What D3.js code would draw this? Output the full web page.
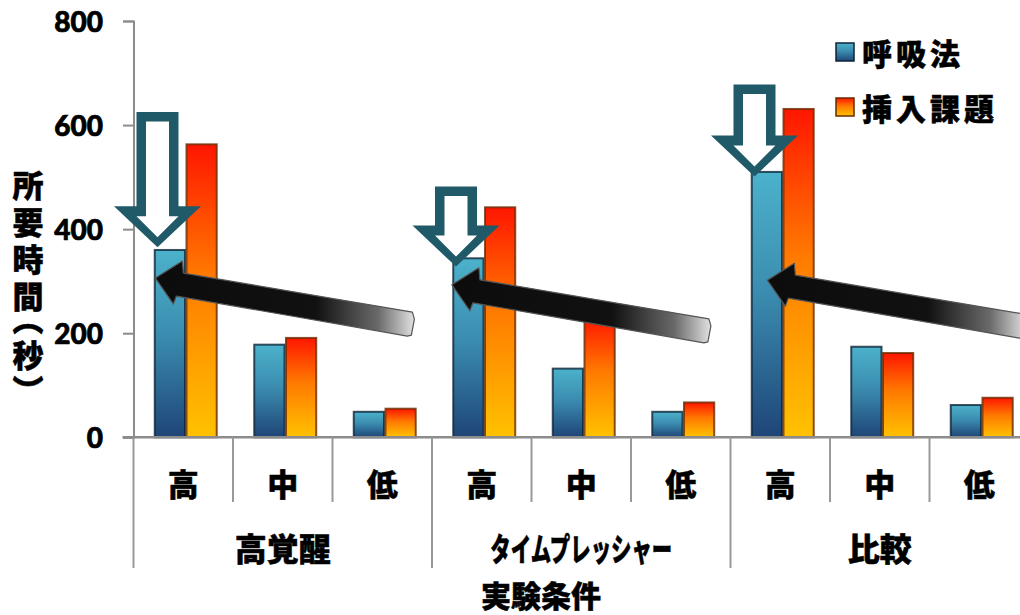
<!DOCTYPE html>
<html>
<head>
<meta charset="utf-8">
<script src="https://cdn.jsdelivr.net/npm/d3@7"></script>
<style>
  html, body { margin: 0; padding: 0; background: #fff; }
  svg { display: block; }
  .cjk { font-family: "Noto Sans CJK JP", "Noto Sans", sans-serif; font-weight: 900; fill: #000; stroke: #000; stroke-width: 0.5px; }
  .num { font-family: "Lato", "Liberation Sans", sans-serif; font-weight: 900; fill: #000; stroke: #000; stroke-width: 0.7px; }
  .vert { writing-mode: vertical-rl; font-feature-settings: "vpal" 1; }
</style>
</head>
<body>
<svg id="chart" width="1020" height="615"></svg>
<script>
// ---- data ----
const groups = ["高覚醒", "タイムプレッシャー", "比較"];
const levels = ["高", "中", "低"];
const seriesNames = ["呼吸法", "挿入課題"];
const breathing = [360, 178, 49, 344, 132, 49, 510, 174, 62];   // 呼吸法
const insertion = [563, 191, 55, 442, 230, 67, 631, 162, 76];   // 挿入課題
const yTicks = [0, 200, 400, 600, 800];
const yTitle = "所要時間（秒）";
const xTitle = "実験条件";

// highlight annotations (one per group, on the 高 category)
const downArrowCategory = [0, 3, 6];
const downArrowTop = [625, 482, 678];
const downArrowTip = [365, 328, 501];
const pointerCategory = [0, 3, 6];
const pointerTipFrac = [0.22, 0.2, 0.37];
const pointerTipValue = [306, 293, 302];

// ---- layout ----
const svg = d3.select("#chart");
const plotLeft = 133.5, plotRight = 1029, plotTop = 21, plotBottom = 437.3;
const axisGrey = "#8c8c8c";

const cats = [];
groups.forEach((g, gi) => levels.forEach((l, li) => cats.push({ id: gi * 3 + li, group: g, level: l })));

const x0 = d3.scaleBand().domain(cats.map(c => c.id)).range([plotLeft, plotRight]).padding(0);
const x1 = d3.scaleBand().domain(seriesNames)
  .range([x0.bandwidth() * 0.206, x0.bandwidth() * 0.844]).padding(0);
const y = d3.scaleLinear().domain([0, 800]).range([plotBottom, plotTop]);

// ---- gradients ----
const defs = svg.append("defs");
const gBlue = defs.append("linearGradient").attr("id", "gradBlue")
  .attr("x1", 0).attr("y1", 0).attr("x2", 0).attr("y2", 1);
gBlue.append("stop").attr("offset", "0%").attr("stop-color", "#4cb2cb");
gBlue.append("stop").attr("offset", "45%").attr("stop-color", "#3b8db0");
gBlue.append("stop").attr("offset", "100%").attr("stop-color", "#1e4577");
const gOrange = defs.append("linearGradient").attr("id", "gradOrange")
  .attr("x1", 0).attr("y1", 0).attr("x2", 0).attr("y2", 1);
gOrange.append("stop").attr("offset", "0%").attr("stop-color", "#ff1600");
gOrange.append("stop").attr("offset", "45%").attr("stop-color", "#ff7a00");
gOrange.append("stop").attr("offset", "100%").attr("stop-color", "#ffc200");
const gPointer = defs.append("linearGradient").attr("id", "gradPointer")
  .attr("x1", 0).attr("y1", 0).attr("x2", 1).attr("y2", 0);
gPointer.append("stop").attr("offset", "0%").attr("stop-color", "#0c0c0c");
gPointer.append("stop").attr("offset", "62%").attr("stop-color", "#111");
gPointer.append("stop").attr("offset", "86%").attr("stop-color", "#6a6a6a");
gPointer.append("stop").attr("offset", "100%").attr("stop-color", "#e2e2e2");

const fills = { "呼吸法": "url(#gradBlue)", "挿入課題": "url(#gradOrange)" };
const edges = { "呼吸法": "#0c2436", "挿入課題": "#6a2a00" };

// ---- y axis ----
const yAxis = d3.axisLeft(y).tickValues(yTicks).tickSize(10.5).tickPadding(20).tickFormat(d3.format("d"));
const yg = svg.append("g").attr("transform", `translate(${plotLeft},0)`).call(yAxis);
yg.select(".domain").attr("stroke", axisGrey).attr("stroke-width", 2);
yg.selectAll(".tick line").attr("stroke", axisGrey).attr("stroke-width", 2);
yg.selectAll(".tick text").attr("class", "num").attr("font-size", 28).attr("dy", "0.36em");

// ---- bars ----
const barData = [];
cats.forEach(c => {
  barData.push({ cat: c.id, series: "呼吸法", value: breathing[c.id] });
  barData.push({ cat: c.id, series: "挿入課題", value: insertion[c.id] });
});
svg.append("g").selectAll("rect").data(barData).join("rect")
  .attr("x", d => x0(d.cat) + x1(d.series) + 0.75)
  .attr("y", d => y(d.value))
  .attr("width", x1.bandwidth() - 1.5)
  .attr("height", d => y(0) - y(d.value))
  .attr("fill", d => fills[d.series])
  .attr("stroke", d => edges[d.series])
  .attr("stroke-opacity", 0.8)
  .attr("stroke-width", 2);

// ---- x axis line and category separators ----
svg.append("line").attr("x1", plotLeft - 11).attr("x2", plotRight)
  .attr("y1", plotBottom).attr("y2", plotBottom)
  .attr("stroke", axisGrey).attr("stroke-width", 2.6);

const sepG = svg.append("g").attr("stroke", "#999").attr("stroke-width", 2);
d3.range(0, cats.length + 1).forEach(i => {
  const xs = i < cats.length ? x0(i) : plotRight;
  const isGroup = i % 3 === 0;
  sepG.append("line").attr("x1", xs).attr("x2", xs)
    .attr("y1", plotBottom).attr("y2", isGroup ? 568 : 502);
});

// category labels
svg.append("g").selectAll("text").data(cats).join("text")
  .attr("class", "cjk")
  .attr("x", d => x0(d.id) + x0.bandwidth() / 2)
  .attr("y", 482)
  .attr("text-anchor", "middle")
  .attr("dominant-baseline", "central")
  .attr("font-size", 31)
  .text(d => d.level);

// group labels
svg.append("g").selectAll("text").data(groups).join("text")
  .attr("class", "cjk")
  .attr("x", (d, i) => x0(i * 3 + 1) + x0.bandwidth() / 2)
  .attr("y", 547)
  .attr("text-anchor", "middle")
  .attr("dominant-baseline", "central")
  .attr("font-size", 32)
  .each(function (d) {
    if (d.length > 4) {
      d3.select(this).attr("textLength", 182).attr("lengthAdjust", "spacingAndGlyphs");
    }
  })
  .text(d => d);

// x axis title
svg.append("text").attr("class", "cjk")
  .attr("x", 541).attr("y", 594)
  .attr("text-anchor", "middle").attr("dominant-baseline", "central")
  .attr("font-size", 30)
  .text(xTitle);

// y axis title, set vertically
svg.append("text").attr("class", "cjk vert")
  .attr("x", 28).attr("y", 170)
  .attr("font-size", 31)
  .attr("letter-spacing", 6)
  .text(yTitle);

// ---- hollow down arrows ----
const arrowColor = "#205a69";
downArrowCategory.forEach((ci, k) => {
  const cx = x0(ci) + x1("呼吸法") + 3.5;
  const top = y(downArrowTop[k]);
  const tip = y(downArrowTip[k]);
  const outer = `M${cx - 21},${top} L${cx + 21},${top} L${cx + 21},${tip - 41} L${cx + 43.5},${tip - 41} L${cx},${tip} L${cx - 43.5},${tip - 41} L${cx - 21},${tip - 41} Z`;
  const inner = `M${cx - 11.5},${top + 9.5} L${cx + 11.5},${top + 9.5} L${cx + 11.5},${tip - 31} L${cx + 21},${tip - 31} L${cx},${tip - 10} L${cx - 21},${tip - 31} L${cx - 11.5},${tip - 31} Z`;
  svg.append("path").attr("d", outer).attr("fill", arrowColor);
  svg.append("path").attr("d", inner).attr("fill", "#fff");
});

// ---- black pointer arrows ----
const pointerShape = [
  [0, 0], [27, -17], [28, -5], [257, 34], [259, 41], [256, 57],
  [252, 58], [21, 18], [18, 26]
];
pointerCategory.forEach((ci, k) => {
  const tx = x0(ci) + x0.bandwidth() * pointerTipFrac[k];
  const ty = y(pointerTipValue[k]);
  const d = "M" + pointerShape.map(p => `${tx + p[0]},${ty + p[1]}`).join(" L") + " Z";
  svg.append("path").attr("d", d)
    .attr("fill", "url(#gradPointer)")
    .attr("stroke", "#555").attr("stroke-width", 1.2).attr("stroke-linejoin", "round");
});

// ---- legend ----
const legend = svg.append("g");
seriesNames.forEach((s, i) => {
  const ly = 43 + i * 55;
  legend.append("rect").attr("x", 836).attr("y", ly).attr("width", 18).attr("height", 18)
    .attr("fill", fills[s]).attr("stroke", edges[s]).attr("stroke-width", 1.5);
  legend.append("text").attr("class", "cjk")
    .attr("x", 862).attr("y", ly + 9)
    .attr("dominant-baseline", "central")
    .attr("font-size", 30).attr("letter-spacing", 4)
    .text(s);
});
</script>
</body>
</html>
